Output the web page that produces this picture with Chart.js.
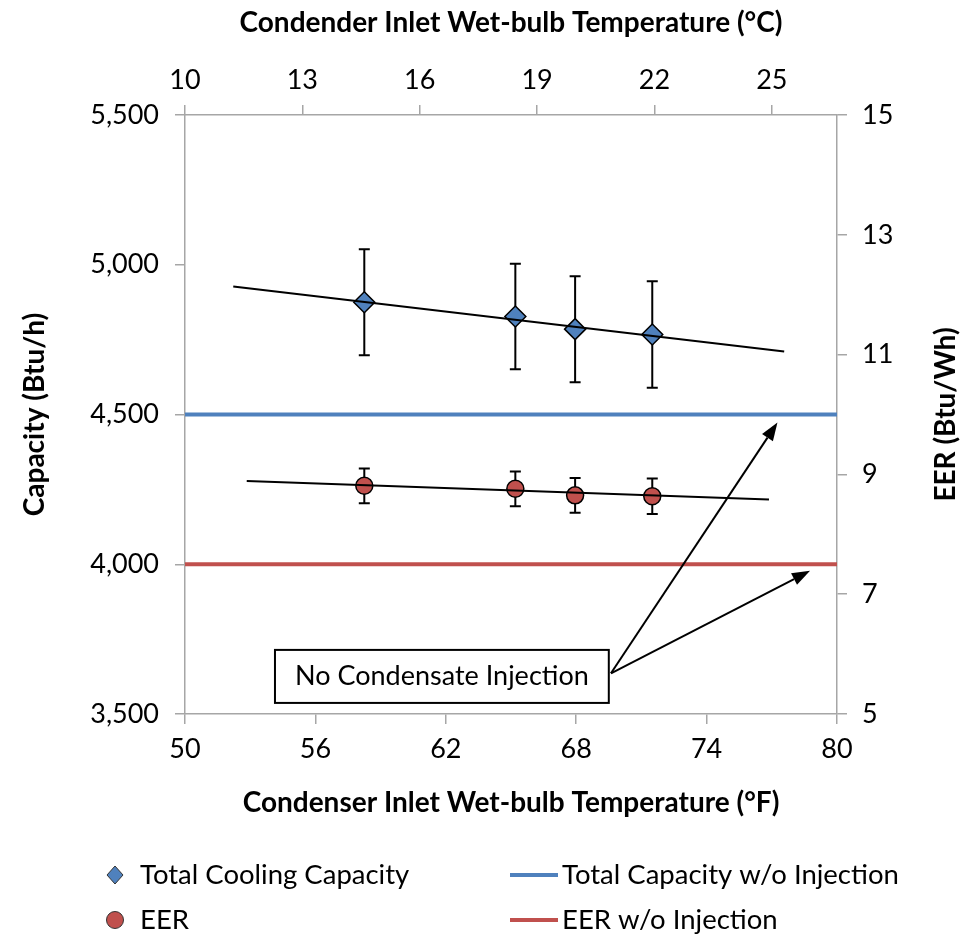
<!DOCTYPE html>
<html>
<head>
<meta charset="utf-8">
<script src="https://cdn.jsdelivr.net/npm/chart.js@4"></script>
<style>
  html, body { margin: 0; padding: 0; background: #fff; }
  canvas { display: block; }
</style>
</head>
<body>
<canvas id="chart" width="973" height="937"></canvas>
<script>
// measured points (deg F) with +/- error
const tempF = [58.25, 65.2, 67.95, 71.5];
const capacity = [4875, 4827, 4785, 4767];
const capacityErr = [177, 176, 177, 178];
const eer = [8.81, 8.76, 8.65, 8.635];
const eerErr = [0.29, 0.29, 0.29, 0.295];

// linear trend lines (end points)
const capTrendF = [52.22, 77.57];
const capTrend = [4927, 4710];
const eerTrendF = [52.84, 76.87];
const eerTrend = [8.89, 8.58];

// baseline without condensate injection
const baseF = [50, 80];
const baseCapacity = [4500, 4500];
const baseEer = [7.5, 7.5];

// axes
const fTicks = [50, 56, 62, 68, 74, 80];
const cTicks = [10, 13, 16, 19, 22, 25];
const capTicks = [3500, 4000, 4500, 5000, 5500];
const eerTicks = [5, 7, 9, 11, 13, 15];

// callout
const noteText = 'No Condensate Injection';
const noteBoxF = [54.14, 69.5];
const noteBoxCap = [3714, 3537];
const arrowFrom = [69.6, 3636];
const arrowToF = [77.26, 78.76];
const arrowToCap = [4473, 3978];

const BLUE = '#4F81BD';
const RED = '#C0504D';
const AXIS = '#A6A6A6';
const FONT = 'Lato';

function toC(f) { return (f - 32) / 1.8; }
function pts(xs, ys) { return xs.map(function (x, i) { return { x: x, y: ys[i] }; }); }

const tickFont = { family: FONT, size: 27 };
const titleFont = { family: FONT, size: 28, weight: 'bold' };
const gridOpts = { drawOnChartArea: false, drawTicks: true, tickLength: 10, color: AXIS, lineWidth: 1.5 };
const borderOpts = { color: AXIS, width: 1.5 };

function fixTicks(list) {
    return function (scale) { scale.ticks = list.map(function (v) { return { value: v }; }); };
}

const errorBars = {
    id: 'errorBars',
    beforeDatasetsDraw(chart) {
        const ctx = chart.ctx;
        ctx.save();
        ctx.strokeStyle = '#000';
        ctx.lineWidth = 2;
        chart.data.datasets.forEach(function (ds) {
            if (!ds.errors) return;
            const ys = chart.scales[ds.yAxisID];
            const xs = chart.scales.x;
            ds.data.forEach(function (p, j) {
                const px = xs.getPixelForValue(p.x);
                const top = ys.getPixelForValue(p.y + ds.errors[j]);
                const bot = ys.getPixelForValue(p.y - ds.errors[j]);
                ctx.beginPath();
                ctx.moveTo(px, top); ctx.lineTo(px, bot);
                ctx.moveTo(px - 5.5, top); ctx.lineTo(px + 5.5, top);
                ctx.moveTo(px - 5.5, bot); ctx.lineTo(px + 5.5, bot);
                ctx.stroke();
            });
        });
        ctx.restore();
    }
};

function arrow(ctx, x0, y0, x1, y1) {
    const a = Math.atan2(y1 - y0, x1 - x0);
    const len = 18, half = 6.5;
    const bx = x1 - len * Math.cos(a), by = y1 - len * Math.sin(a);
    ctx.beginPath();
    ctx.moveTo(x0, y0); ctx.lineTo(bx, by);
    ctx.stroke();
    ctx.beginPath();
    ctx.moveTo(x1, y1);
    ctx.lineTo(bx + half * Math.sin(a), by - half * Math.cos(a));
    ctx.lineTo(bx - half * Math.sin(a), by + half * Math.cos(a));
    ctx.closePath();
    ctx.fill();
}

const extras = {
    id: 'extras',
    afterDraw(chart) {
        const ctx = chart.ctx;
        const xs = chart.scales.x, ys = chart.scales.y;
        const area = chart.chartArea;
        ctx.save();

        // callout box
        const bx0 = xs.getPixelForValue(noteBoxF[0]), bx1 = xs.getPixelForValue(noteBoxF[1]);
        const by0 = ys.getPixelForValue(noteBoxCap[0]), by1 = ys.getPixelForValue(noteBoxCap[1]);
        ctx.fillStyle = '#fff';
        ctx.fillRect(bx0, by0, bx1 - bx0, by1 - by0);
        ctx.strokeStyle = '#000';
        ctx.lineWidth = 2;
        ctx.strokeRect(bx0, by0, bx1 - bx0, by1 - by0);
        ctx.fillStyle = '#000';
        ctx.font = '27px ' + FONT;
        ctx.textAlign = 'center';
        ctx.textBaseline = 'middle';
        ctx.fillText(noteText, (bx0 + bx1) / 2, (by0 + by1) / 2);

        // arrows
        const ax = xs.getPixelForValue(arrowFrom[0]), ay = ys.getPixelForValue(arrowFrom[1]);
        arrowToF.forEach(function (f, i) {
            arrow(ctx, ax, ay, xs.getPixelForValue(f), ys.getPixelForValue(arrowToCap[i]));
        });

        // right axis title, reading bottom to top
        ctx.save();
        ctx.translate(946, (area.top + area.bottom) / 2);
        ctx.rotate(-Math.PI / 2);
        ctx.font = 'bold 28px ' + FONT;
        ctx.fillText('EER (Btu/Wh)', 0, 0);
        ctx.restore();

        // legend
        ctx.font = '27.5px ' + FONT;
        ctx.textAlign = 'left';
        ctx.lineWidth = 1;
        ctx.strokeStyle = '#333';
        ctx.fillStyle = BLUE;
        ctx.beginPath();
        ctx.moveTo(115, 866); ctx.lineTo(123, 875); ctx.lineTo(115, 884); ctx.lineTo(107, 875);
        ctx.closePath(); ctx.fill(); ctx.stroke();
        ctx.fillStyle = RED;
        ctx.beginPath();
        ctx.arc(115, 920, 8.5, 0, Math.PI * 2);
        ctx.fill(); ctx.stroke();
        ctx.lineWidth = 4;
        ctx.strokeStyle = BLUE;
        ctx.beginPath(); ctx.moveTo(510, 875); ctx.lineTo(558, 875); ctx.stroke();
        ctx.strokeStyle = RED;
        ctx.beginPath(); ctx.moveTo(510, 920); ctx.lineTo(558, 920); ctx.stroke();
        ctx.fillStyle = '#000';
        ctx.fillText('Total Cooling Capacity', 140, 875);
        ctx.fillText('EER', 140, 920);
        ctx.fillText('Total Capacity w/o Injection', 562, 875);
        ctx.fillText('EER w/o Injection', 562, 920);
        ctx.restore();
    }
};

new Chart(document.getElementById('chart'), {
    type: 'scatter',
    data: {
        datasets: [
            {
                label: 'Total Cooling Capacity', data: pts(tempF, capacity), errors: capacityErr,
                yAxisID: 'y', pointStyle: 'rectRot', pointRadius: 10.5,
                backgroundColor: BLUE, borderColor: '#000', pointBorderWidth: 1.5, order: 1
            },
            {
                label: 'EER', data: pts(tempF, eer), errors: eerErr,
                yAxisID: 'y2', pointStyle: 'circle', pointRadius: 8.5,
                backgroundColor: RED, borderColor: '#000', pointBorderWidth: 1.5, order: 1
            },
            {
                label: 'cap trend', data: pts(capTrendF, capTrend), yAxisID: 'y', showLine: true,
                borderColor: '#000', borderWidth: 2, pointRadius: 0, order: 0
            },
            {
                label: 'eer trend', data: pts(eerTrendF, eerTrend), yAxisID: 'y2', showLine: true,
                borderColor: '#000', borderWidth: 2, pointRadius: 0, order: 0
            },
            {
                label: 'Total Capacity w/o Injection', data: pts(baseF, baseCapacity), yAxisID: 'y', showLine: true,
                borderColor: BLUE, borderWidth: 4, pointRadius: 0, order: 2
            },
            {
                label: 'EER w/o Injection', data: pts(baseF, baseEer), yAxisID: 'y2', showLine: true,
                borderColor: RED, borderWidth: 4, pointRadius: 0, order: 2
            }
        ]
    },
    options: {
        responsive: false,
        animation: false,
        devicePixelRatio: 1,
        layout: { padding: { left: 0, right: 0, top: 0, bottom: 113 } },
        plugins: { legend: { display: false }, tooltip: { enabled: false } },
        scales: {
            x: {
                type: 'linear', position: 'bottom', min: 50, max: 80,
                afterBuildTicks: fixTicks(fTicks),
                afterFit: function (s) { s.height = 110; },
                ticks: { font: tickFont, color: '#000', padding: 9 },
                grid: gridOpts, border: borderOpts,
                title: { display: true, text: 'Condenser Inlet Wet-bulb Temperature (°F)', font: titleFont, color: '#000', padding: { top: 0, bottom: 4 } }
            },
            x2: {
                type: 'linear', position: 'top', min: toC(50), max: toC(80),
                afterBuildTicks: fixTicks(cTicks),
                afterFit: function (s) { s.height = 115; },
                ticks: { font: tickFont, color: '#000', padding: 9 },
                grid: gridOpts, border: borderOpts,
                title: { display: true, text: 'Condender Inlet Wet-bulb Temperature (°C)', font: titleFont, color: '#000', padding: { top: 6, bottom: 0 } }
            },
            y: {
                type: 'linear', position: 'left', min: 3500, max: 5500,
                afterBuildTicks: fixTicks(capTicks),
                afterFit: function (s) { s.width = 185; },
                ticks: { font: tickFont, color: '#000', padding: 16, callback: function (v) { return v.toLocaleString('en-US'); } },
                grid: gridOpts, border: borderOpts,
                title: { display: true, text: 'Capacity (Btu/h)', font: titleFont, color: '#000', padding: { top: 18, bottom: 0 } }
            },
            y2: {
                type: 'linear', position: 'right', min: 5, max: 15,
                afterBuildTicks: fixTicks(eerTicks),
                afterFit: function (s) { s.width = 136; },
                ticks: { font: tickFont, color: '#000', padding: 15 },
                grid: gridOpts, border: borderOpts
            }
        }
    },
    plugins: [errorBars, extras]
});
</script>
</body>
</html>
